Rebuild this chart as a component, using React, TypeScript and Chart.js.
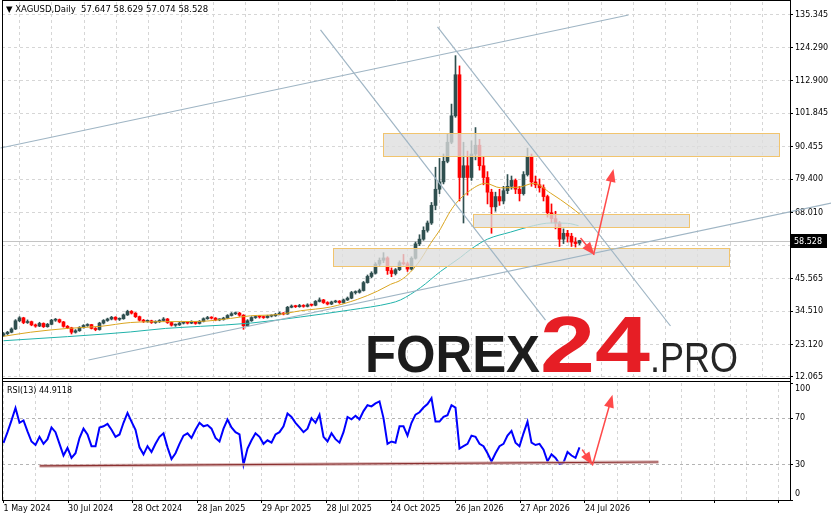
import React, { useEffect, useRef } from "react";
import { Chart, registerables } from "chart.js";
Chart.register(...registerables);

const FONT = '"DejaVu Sans", sans-serif';
const LOGO_FONT = '"Liberation Sans", Arial, sans-serif';

// ---- candles (one candle per 4 trading days) ----
const OPEN = [
  26.2, 26.8, 27.3, 28.4, 31.2, 32.2, 30.6, 30.9, 29.8, 29.4,
  30.3, 29.2, 30.0, 31.4, 31.6, 30.8, 29.3, 28.8, 27.3, 27.8,
  28.9, 29.6, 29.9, 28.6, 28.2, 30.4, 31.3, 31.8, 32.4, 31.7,
  31.9, 33.2, 34.4, 33.8, 32.6, 31.4, 31.0, 31.2, 30.6, 30.9,
  31.3, 31.8, 30.6, 29.7, 29.8, 30.4, 30.6, 30.4, 30.9, 30.3,
  31.0, 31.9, 32.3, 32.1, 31.5, 31.6, 32.1, 33.0, 33.6, 33.8,
  33.1, 29.5, 31.2, 32.3, 32.6, 32.5, 32.3, 32.8, 32.9, 33.4,
  33.8, 33.5, 35.8, 36.2, 36.0, 36.4, 36.1, 36.6, 36.5, 37.8,
  38.3, 37.4, 36.9, 37.6, 37.9, 37.4, 38.3, 38.9, 40.8, 40.9,
  41.5, 44.2, 46.3, 47.4, 50.5, 51.8, 52.6, 48.3, 47.3, 48.6,
  51.0, 50.6, 48.8, 52.5, 57.4, 59.0, 62.0, 64.5, 70.5, 76.0,
  78.5, 85.5, 92.0, 101.0, 115.0, 80.0, 84.0, 80.0, 88.0, 91.0,
  84.0, 80.0, 75.0, 70.0, 73.5, 72.0, 75.5, 77.0, 79.0, 76.0,
  74.5, 81.0, 87.0, 78.5, 77.5, 76.5, 73.5, 68.0, 66.0, 64.5,
  59.0, 61.0, 60.0, 58.0, 57.647,
];
const HIGH = [
  27.2, 27.6, 28.8, 31.6, 32.6, 32.4, 31.5, 31.1, 30.1, 30.7,
  30.5, 30.3, 31.7, 32.0, 31.8, 31.0, 29.6, 29.0, 28.2, 29.2,
  29.9, 30.2, 30.0, 28.9, 30.7, 31.6, 32.1, 32.7, 32.6, 32.2,
  33.5, 34.8, 34.7, 34.0, 32.8, 31.7, 31.5, 31.4, 31.2, 31.6,
  32.3, 32.0, 30.8, 30.1, 30.7, 30.9, 30.8, 31.2, 31.0, 31.3,
  32.2, 32.7, 32.6, 32.3, 31.9, 32.4, 33.3, 34.0, 34.2, 34.1,
  33.3, 31.6, 32.6, 32.9, 33.0, 32.8, 33.1, 33.2, 33.7, 34.2,
  34.0, 36.1, 36.6, 36.5, 36.8, 36.7, 37.0, 36.9, 38.1, 39.0,
  38.5, 37.7, 37.9, 38.2, 38.1, 38.6, 39.3, 41.2, 41.4, 42.0,
  44.6, 46.8, 47.9, 51.0, 52.6, 54.4, 53.0, 49.2, 49.0, 51.6,
  53.8, 51.2, 53.0, 58.0, 60.5, 63.2, 65.2, 71.5, 83.5, 86.5,
  88.0, 95.0, 105.0, 121.5, 118.0, 92.0, 89.0, 92.5, 97.0, 93.0,
  87.0, 82.0, 76.0, 75.0, 76.0, 77.0, 81.0, 80.5, 79.5, 77.0,
  82.0, 90.0, 88.0, 80.5, 79.5, 77.5, 74.0, 71.0, 68.5, 65.0,
  62.5, 62.0, 61.0, 59.5, 58.629,
];
const LOW = [
  25.9, 26.5, 27.1, 28.2, 30.9, 30.2, 30.3, 29.5, 29.0, 29.2,
  28.9, 29.0, 29.8, 31.0, 30.5, 29.0, 28.5, 26.7, 27.0, 27.6,
  28.7, 29.3, 28.4, 27.8, 28.0, 30.1, 31.0, 31.5, 31.4, 31.3,
  31.7, 33.0, 33.5, 32.3, 31.1, 30.6, 30.7, 30.3, 30.3, 30.6,
  31.1, 30.3, 29.4, 29.3, 29.6, 30.1, 30.1, 30.2, 30.0, 30.1,
  30.8, 31.7, 31.8, 31.2, 31.2, 31.4, 31.9, 32.8, 33.3, 32.7,
  28.3, 29.2, 31.0, 32.0, 32.1, 32.0, 32.1, 32.5, 32.7, 33.2,
  33.2, 33.4, 35.6, 35.7, 35.8, 35.8, 35.9, 36.2, 36.3, 37.6,
  37.1, 36.6, 36.7, 37.4, 37.1, 37.2, 38.1, 38.7, 40.3, 40.6,
  41.3, 44.0, 45.8, 47.1, 49.8, 51.0, 47.0, 46.2, 46.8, 48.3,
  50.2, 48.0, 48.5, 52.2, 56.8, 58.6, 61.4, 64.0, 69.0, 74.5,
  77.8, 85.0, 91.5, 100.5, 72.0, 64.5, 74.0, 79.0, 86.0, 82.5,
  77.5, 71.0, 61.0, 68.5, 70.5, 71.0, 74.5, 76.0, 74.5, 72.0,
  74.0, 80.5, 77.0, 76.5, 75.0, 72.0, 66.5, 64.5, 62.5, 56.5,
  57.5, 58.0, 56.5, 56.3, 57.074,
];
const CLOSE = [
  26.8, 27.3, 28.4, 31.2, 32.2, 30.6, 30.9, 29.8, 29.4, 30.3,
  29.2, 30.0, 31.4, 31.6, 30.8, 29.3, 28.8, 27.3, 27.8, 28.9,
  29.6, 29.9, 28.6, 28.2, 30.4, 31.3, 31.8, 32.4, 31.7, 31.9,
  33.2, 34.4, 33.8, 32.6, 31.4, 31.0, 31.2, 30.6, 30.9, 31.3,
  31.8, 30.6, 29.7, 29.8, 30.4, 30.6, 30.4, 30.9, 30.3, 31.0,
  31.9, 32.3, 32.1, 31.5, 31.6, 32.1, 33.0, 33.6, 33.8, 33.1,
  29.5, 31.2, 32.3, 32.6, 32.5, 32.3, 32.8, 32.9, 33.4, 33.8,
  33.5, 35.8, 36.2, 36.0, 36.4, 36.1, 36.6, 36.5, 37.8, 38.3,
  37.4, 36.9, 37.6, 37.9, 37.4, 38.3, 38.9, 40.8, 40.9, 41.5,
  44.2, 46.3, 47.4, 50.5, 51.8, 52.6, 48.3, 47.3, 48.6, 51.0,
  50.6, 48.8, 52.5, 57.4, 59.0, 62.0, 64.5, 70.5, 76.0, 78.5,
  85.5, 92.0, 101.0, 115.0, 80.0, 84.0, 80.0, 88.0, 91.0, 84.0,
  80.0, 75.0, 70.0, 73.5, 72.0, 75.5, 77.0, 79.0, 76.0, 74.5,
  81.0, 87.0, 78.5, 77.5, 76.5, 73.5, 68.0, 66.0, 64.5, 59.0,
  61.0, 60.0, 58.0, 57.5, 58.528,
];
const DAYS_PER_CANDLE = 4;

// ---- RSI(13), one value per candle ----
const RSI = [
  48.8, 58, 68, 78.6, 66, 68, 58.7, 50, 47, 54,
  48, 52, 62, 58, 48, 38, 44.5, 36, 40, 53,
  61, 56, 46, 46, 62, 63, 65, 60, 54, 56,
  66, 74.4, 67, 60, 45, 39, 46, 41, 48, 54,
  57, 45, 35, 40, 48, 55, 57, 53, 60, 66,
  63, 64, 61, 53, 50, 61, 68.7, 62, 58, 56,
  30.2, 44, 51, 57, 54, 48, 51, 49, 56, 58,
  63, 74, 71, 66, 62, 58, 61, 70, 66, 72.9,
  54, 50, 57, 52, 49, 58, 71, 69, 72, 69,
  76, 81, 80, 82.5, 84.3, 70, 48, 50, 49, 63,
  63, 55, 66, 73, 75, 79, 82, 87, 67, 67,
  71, 72.5, 81, 79, 44, 46, 48, 55, 54, 48,
  46, 40, 33, 40, 46, 48, 55, 59, 49, 46,
  57, 67, 49, 47, 48, 43, 33, 39, 36, 31,
  32, 41, 38, 36, 44.9118,
];

// ---- moving averages (trading-day index, value) ----
const MA_FAST_DAY = [0, 27, 64, 97, 127, 162, 197, 227, 247, 274, 297, 327, 354, 374, 387, 397, 407, 417, 427, 437, 445, 452, 467, 482, 497, 517, 530, 547, 567, 577];
const MA_FAST = [25.9, 27.3, 28.6, 29.3, 30.6, 30.9, 31.0, 32.0, 32.9, 33.3, 34.6, 35.9, 38.5, 41.3, 43.6, 45.0, 47.8, 52.0, 57.5, 62.5, 67.5, 71.0, 75.7, 78.0, 76.5, 76.8, 78.0, 74.7, 70.0, 67.3];
const MA_SLOW_DAY = [0, 64, 127, 162, 197, 247, 297, 347, 387, 397, 417, 437, 457, 467, 484, 507, 530, 547, 564, 575];
const MA_SLOW = [24.4, 25.8, 27.4, 28.6, 29.3, 30.4, 32.5, 34.9, 37.2, 38.3, 42.5, 48.0, 52.8, 55.5, 59.0, 61.4, 63.6, 64.5, 64.4, 63.6];

// ---- axes ----
const PRICE_TICKS = [12.065, 23.12, 34.51, 45.565, 56.955, 68.01, 79.4, 90.455, 101.845, 112.9, 124.29, 135.345];
const PRICE_MIN = 11.71;
const PRICE_MAX = 139.77;
const X_MIN = -1.5;
const X_MAX = 786.5;
const GRID_STEP = 32.3;
const GRID_COUNT = 25;
const DATE_LABELS = ["1 May 2024", "30 Jul 2024", "28 Oct 2024", "28 Jan 2025", "29 Apr 2025", "28 Jul 2025", "24 Oct 2025", "26 Jan 2026", "27 Apr 2026", "24 Jul 2026"];
const RSI_TICKS = [0, 30, 70, 100];
const LAST_PRICE = 58.528;
const HEADER = "\u25BC XAGUSD,Daily  57.647 58.629 57.074 58.528";
const RSI_HEADER = "RSI(13) 44.9118";

// ---- drawings: [day1, price1, day2, price2] ----
const TREND_LINES = [
  [-3, 90.05, 625, 135.345],
  [85, 17.84, 828, 71.31],
  [317, 130.24, 542, 31.46],
  [434, 131.26, 667, 29.42],
];
const ZONES = [
  [379, 95.15, 775, 87.32],
  [469, 67.57, 685, 63.14],
  [329, 55.99, 725, 49.85],
];
const PRICE_ARROWS = [
  [577, 59.39, 591, 53.6],
  [590, 53.6, 610, 82.89],
];
const RSI_TREND = [37, 29.1, 654, 32.5];
const RSI_ARROWS = [
  [579, 42.7, 589, 29.9],
  [589, 29.9, 609, 90.0],
];

const BULL = "#2f4f4f";
const BEAR = "#ff0000";
const GRID_COLOR = "#d6d6d6";

const gridTicks = () => Array.from({ length: GRID_COUNT }, (_, k) => ({ value: k * GRID_STEP }));

function drawArrow(ctx: CanvasRenderingContext2D, x1: number, y1: number, x2: number, y2: number) {
  const a = Math.atan2(y2 - y1, x2 - x1);
  const head = 13;
  const half = 5;
  const c = Math.cos(a);
  const s = Math.sin(a);
  ctx.save();
  ctx.strokeStyle = "#ff4a4a";
  ctx.fillStyle = "#ff4a4a";
  ctx.lineWidth = 1.5;
  ctx.beginPath();
  ctx.moveTo(x1, y1);
  ctx.lineTo(x2 - c * head * 0.7, y2 - s * head * 0.7);
  ctx.stroke();
  ctx.beginPath();
  ctx.moveTo(x2, y2);
  ctx.lineTo(x2 - head * c + half * s, y2 - head * s - half * c);
  ctx.lineTo(x2 - head * c - half * s, y2 - head * s + half * c);
  ctx.closePath();
  ctx.fill();
  ctx.restore();
}

function drawFitted(ctx: CanvasRenderingContext2D, text: string, x: number, base: number, capH: number, width: number, weight: string, color: string) {
  const size = capH / 0.72;
  ctx.save();
  ctx.font = `${weight} ${size}px ${LOGO_FONT}`;
  const w = ctx.measureText(text).width;
  ctx.translate(x, base);
  ctx.scale(width / w, 1);
  ctx.fillStyle = color;
  ctx.textBaseline = "alphabetic";
  ctx.textAlign = "left";
  ctx.fillText(text, 0, 0);
  ctx.restore();
}

const mainDeco = {
  id: "mainDeco",
  beforeDatasetsDraw(chart: any) {
    const { ctx, chartArea, scales } = chart;
    const y = scales.y;
    ctx.save();
    // watermark
    drawFitted(ctx, "FOREX", 365, 372, 37, 175, "bold", "#1c1c1c");
    drawFitted(ctx, "24", 540, 372, 57, 110, "bold", "#e61e25");
    drawFitted(ctx, ".PRO", 650, 372, 31, 88, "normal", "#262626");
    // last price line
    const py = Math.round(y.getPixelForValue(LAST_PRICE)) + 0.5;
    ctx.strokeStyle = "#c4c4c4";
    ctx.lineWidth = 1;
    ctx.beginPath();
    ctx.moveTo(chartArea.left, py);
    ctx.lineTo(chartArea.right, py);
    ctx.stroke();
    ctx.restore();
  },
  afterDatasetsDraw(chart: any) {
    const { ctx, scales } = chart;
    const x = scales.x;
    const y = scales.y;
    ctx.save();
    for (const [d1, p1, d2, p2] of ZONES) {
      const xa = Math.round(x.getPixelForValue(d1)) + 0.5;
      const xb = Math.round(x.getPixelForValue(d2)) + 0.5;
      const ya = Math.round(y.getPixelForValue(p1)) + 0.5;
      const yb = Math.round(y.getPixelForValue(p2)) + 0.5;
      ctx.fillStyle = "rgba(222,222,222,0.78)";
      ctx.fillRect(xa, ya, xb - xa, yb - ya);
      ctx.strokeStyle = "#f1c46e";
      ctx.lineWidth = 1;
      ctx.strokeRect(xa, ya, xb - xa, yb - ya);
    }
    ctx.strokeStyle = "#9fb5c4";
    ctx.lineWidth = 1.2;
    for (const [d1, p1, d2, p2] of TREND_LINES) {
      ctx.beginPath();
      ctx.moveTo(x.getPixelForValue(d1), y.getPixelForValue(p1));
      ctx.lineTo(x.getPixelForValue(d2), y.getPixelForValue(p2));
      ctx.stroke();
    }
    for (const [d1, p1, d2, p2] of PRICE_ARROWS) {
      drawArrow(ctx, x.getPixelForValue(d1), y.getPixelForValue(p1), x.getPixelForValue(d2), y.getPixelForValue(p2));
    }
    ctx.restore();
  },
  afterDraw(chart: any) {
    const { ctx, chartArea, scales } = chart;
    const y = scales.y;
    ctx.save();
    ctx.strokeStyle = "#000";
    ctx.lineWidth = 1;
    ctx.beginPath();
    ctx.moveTo(chartArea.left + 0.5, 0);
    ctx.lineTo(chartArea.left + 0.5, chart.height);
    ctx.moveTo(chartArea.right + 0.5, 0);
    ctx.lineTo(chartArea.right + 0.5, chart.height);
    ctx.moveTo(chartArea.left, chartArea.bottom + 0.5);
    ctx.lineTo(chartArea.right + 1, chartArea.bottom + 0.5);
    ctx.moveTo(chartArea.left, 0.5);
    ctx.lineTo(chartArea.right + 1, 0.5);
    ctx.stroke();
    // header
    ctx.fillStyle = "#000";
    ctx.font = `8.5px ${FONT}`;
    ctx.textBaseline = "middle";
    ctx.textAlign = "left";
    ctx.fillText(HEADER, 6, 10);
    // last price label
    const py = Math.round(y.getPixelForValue(LAST_PRICE));
    ctx.fillStyle = "#000";
    ctx.fillRect(chartArea.right + 1, py - 7, 36, 14);
    ctx.fillStyle = "#fff";
    ctx.font = `8px ${FONT}`;
    ctx.fillText(LAST_PRICE.toFixed(3), chartArea.right + 4, py + 0.5);
    ctx.restore();
  },
};

const rsiDeco = {
  id: "rsiDeco",
  afterDatasetsDraw(chart: any) {
    const { ctx, scales } = chart;
    const x = scales.x;
    const y = scales.y;
    ctx.save();
    const [d1, v1, d2, v2] = RSI_TREND;
    ctx.lineCap = "round";
    ctx.strokeStyle = "rgba(205,160,160,0.7)";
    ctx.lineWidth = 3.5;
    ctx.beginPath();
    ctx.moveTo(x.getPixelForValue(d1), y.getPixelForValue(v1));
    ctx.lineTo(x.getPixelForValue(d2), y.getPixelForValue(v2));
    ctx.stroke();
    ctx.strokeStyle = "#8b3030";
    ctx.lineWidth = 1.2;
    ctx.beginPath();
    ctx.moveTo(x.getPixelForValue(d1), y.getPixelForValue(v1));
    ctx.lineTo(x.getPixelForValue(d2), y.getPixelForValue(v2));
    ctx.stroke();
    for (const [a1, b1, a2, b2] of RSI_ARROWS) {
      drawArrow(ctx, x.getPixelForValue(a1), y.getPixelForValue(b1), x.getPixelForValue(a2), y.getPixelForValue(b2));
    }
    ctx.restore();
  },
  afterDraw(chart: any) {
    const { ctx, chartArea } = chart;
    ctx.save();
    ctx.strokeStyle = "#000";
    ctx.lineWidth = 1;
    ctx.beginPath();
    ctx.moveTo(chartArea.left + 0.5, 0);
    ctx.lineTo(chartArea.left + 0.5, chartArea.bottom + 1);
    ctx.moveTo(chartArea.right + 0.5, 0);
    ctx.lineTo(chartArea.right + 0.5, chartArea.bottom + 1);
    ctx.moveTo(chartArea.left, 0.5);
    ctx.lineTo(chartArea.right + 1, 0.5);
    ctx.moveTo(chartArea.left, chartArea.bottom + 0.5);
    ctx.lineTo(chartArea.right + 1, chartArea.bottom + 0.5);
    ctx.stroke();
    ctx.fillStyle = "#000";
    ctx.font = `8px ${FONT}`;
    ctx.textBaseline = "middle";
    ctx.fillText(RSI_HEADER, 7, 10);
    ctx.restore();
  },
};

function noPad(s: any) {
  s.paddingTop = 0;
  s.paddingBottom = 0;
  s.paddingLeft = 0;
  s.paddingRight = 0;
}

export default function App() {
  const mainRef = useRef<HTMLCanvasElement>(null);
  const rsiRef = useRef<HTMLCanvasElement>(null);

  useEffect(() => {
    Chart.defaults.font.family = FONT;
    const days = CLOSE.map((_, i) => i * DAYS_PER_CANDLE);
    const colors = CLOSE.map((c, i) => (c >= OPEN[i] ? BULL : BEAR));

    const main = new Chart(mainRef.current as HTMLCanvasElement, {
      type: "bar",
      data: {
        datasets: [
          {
            type: "line",
            data: MA_SLOW_DAY.map((d, i) => ({ x: d, y: MA_SLOW[i] })),
            borderColor: "#20b2aa",
            borderWidth: 1,
            pointRadius: 0,
            cubicInterpolationMode: "monotone",
            order: 0,
          } as any,
          {
            type: "line",
            data: MA_FAST_DAY.map((d, i) => ({ x: d, y: MA_FAST[i] })),
            borderColor: "#daa520",
            borderWidth: 1,
            pointRadius: 0,
            cubicInterpolationMode: "monotone",
            order: 0,
          } as any,
          {
            type: "bar",
            data: days.map((d, i) => ({ x: d, y: [LOW[i], HIGH[i]] })),
            backgroundColor: colors,
            barThickness: 1,
            grouped: false,
            order: 2,
          } as any,
          {
            type: "bar",
            data: days.map((d, i) => ({ x: d, y: [OPEN[i], CLOSE[i]] })),
            backgroundColor: colors,
            barThickness: 3,
            minBarLength: 1,
            grouped: false,
            order: 1,
          } as any,
        ],
      },
      options: {
        responsive: false,
        animation: false,
        devicePixelRatio: 1,
        events: [],
        layout: { padding: { left: 2, top: 2, right: 0, bottom: 3 } },
        plugins: { legend: { display: false }, tooltip: { enabled: false } },
        scales: {
          x: {
            type: "linear",
            min: X_MIN,
            max: X_MAX,
            offset: false,
            afterBuildTicks: (s: any) => {
              s.ticks = gridTicks();
            },
            ticks: { display: false, autoSkip: false },
            grid: { color: GRID_COLOR, drawTicks: false, lineWidth: 1 },
            border: { display: false, dash: [3, 3] },
            afterFit: (s: any) => {
              s.height = 0;
              noPad(s);
            },
          },
          y: {
            type: "linear",
            position: "right",
            min: PRICE_MIN,
            max: PRICE_MAX,
            afterBuildTicks: (s: any) => {
              s.ticks = PRICE_TICKS.map((v) => ({ value: v }));
            },
            ticks: {
              autoSkip: false,
              color: "#000",
              padding: 2,
              font: { family: FONT, size: 8 },
              callback: (v: any) => Number(v).toFixed(3),
            },
            grid: { color: GRID_COLOR, tickColor: "#000", tickLength: 3, tickBorderDash: [] },
            border: { display: false, dash: [3, 3] },
            afterFit: (s: any) => {
              s.width = 41;
              noPad(s);
            },
          },
        },
      } as any,
      plugins: [mainDeco],
    });

    const rsi = new Chart(rsiRef.current as HTMLCanvasElement, {
      type: "line",
      data: {
        datasets: [
          {
            data: days.map((d, i) => ({ x: d, y: RSI[i] })),
            borderColor: "#0000ff",
            borderWidth: 2,
            pointRadius: 0,
            tension: 0,
          },
        ],
      },
      options: {
        responsive: false,
        animation: false,
        devicePixelRatio: 1,
        events: [],
        layout: { padding: { left: 2, top: 2, right: 0, bottom: 0 } },
        plugins: { legend: { display: false }, tooltip: { enabled: false } },
        scales: {
          x: {
            type: "linear",
            min: X_MIN,
            max: X_MAX,
            offset: false,
            afterBuildTicks: (s: any) => {
              s.ticks = gridTicks();
            },
            ticks: {
              autoSkip: false,
              maxRotation: 0,
              minRotation: 0,
              align: "start",
              padding: 1,
              color: "#000",
              font: { family: FONT, size: 8 },
              callback: (_v: any, i: number) => (i % 2 === 0 ? DATE_LABELS[i / 2] ?? "" : ""),
            },
            grid: {
              color: GRID_COLOR,
              tickLength: 3,
              tickBorderDash: [],
              tickColor: (c: any) => (c.index % 2 === 0 ? "#000" : "rgba(0,0,0,0)"),
            },
            border: { display: false, dash: [3, 3] },
            afterFit: (s: any) => {
              s.height = 21;
              noPad(s);
            },
          },
          y: {
            type: "linear",
            position: "right",
            min: 0,
            max: 100,
            afterBuildTicks: (s: any) => {
              s.ticks = RSI_TICKS.map((v) => ({ value: v }));
            },
            ticks: {
              autoSkip: false,
              color: "#000",
              padding: 2,
              font: { family: FONT, size: 8, lineHeight: 1.5 },
              callback: (v: any) => (v === 100 ? ["", "100"] : v === 0 ? ["0", ""] : String(v)),
            },
            grid: {
              color: (c: any) => (c.tick && (c.tick.value === 30 || c.tick.value === 70) ? "#b4b4b4" : "rgba(0,0,0,0)"),
              tickColor: "#000",
              tickLength: 3,
              tickBorderDash: [],
            },
            border: { display: false, dash: [3, 3] },
            afterFit: (s: any) => {
              s.width = 41;
              noPad(s);
            },
          },
        },
      } as any,
      plugins: [rsiDeco],
    });

    return () => {
      main.destroy();
      rsi.destroy();
    };
  }, []);

  return (
    <div style={{ position: "fixed", left: 0, top: 0, width: 831, height: 521, background: "#fff", overflow: "hidden" }}>
      <canvas ref={mainRef} width={831} height={381} style={{ position: "absolute", left: 0, top: 0, width: 831, height: 381 }} />
      <canvas ref={rsiRef} width={831} height={140} style={{ position: "absolute", left: 0, top: 381, width: 831, height: 140 }} />
    </div>
  );
}
